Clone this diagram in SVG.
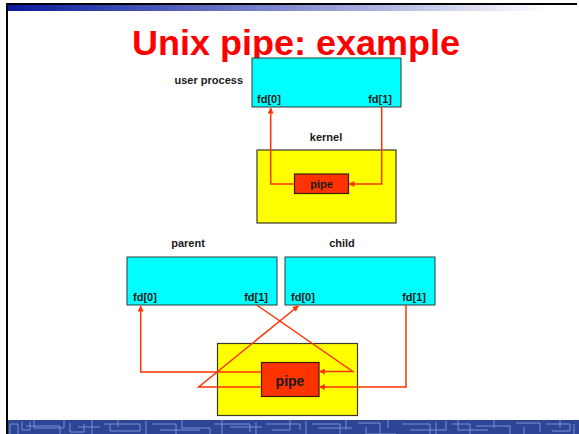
<svg xmlns="http://www.w3.org/2000/svg" width="579" height="434" viewBox="0 0 579 434">
<defs>
<linearGradient id="topband" x1="0" y1="0" x2="1" y2="0">
<stop offset="0" stop-color="#0a1a9e"/>
<stop offset="0.55" stop-color="#8a93d0"/>
<stop offset="1" stop-color="#ffffff"/>
</linearGradient>
<marker id="arr" viewBox="0 0 10 10" refX="9" refY="5" markerWidth="7" markerHeight="6" markerUnits="userSpaceOnUse" orient="auto">
<path d="M0,0 L10,5 L0,10 z" fill="#ff3300"/>
</marker>
</defs>
<style>
.lbl{font-family:"Liberation Sans",Arial,sans-serif;font-weight:bold;font-size:11px;fill:#1a1a1a}
.proc{fill:#00ffff;stroke:#2a3a3a;stroke-width:1}
.kern{fill:#ffff00;stroke:#3a3a2a;stroke-width:1.2}
.pipe{fill:#ff3300;stroke:#3a1a10;stroke-width:1.2}
.con{fill:none;stroke:#ff3300;stroke-width:1.5}
.maze{fill:none;stroke:#7d90d2;stroke-width:1}
</style>
<rect width="579" height="434" fill="#ffffff"/>
<g id="frame">
<rect x="8" y="5" width="540" height="6" fill="url(#topband)"/>
<rect x="6" y="3" width="571" height="2" fill="#000000"/>
<rect x="8" y="420" width="571" height="14" fill="#2d4595"/>
<path class="maze" d="M10,434 V424 H18 V434 M22,422 V430 H30 V422 M26,426 H60 V434 M34,420 V428 H64 V420 M70,423 V432 H84 V424 M78,427 H100 M92,420 V434 M104,424 H140 V431 H110 V424 M118,420 V427 M146,421 V434 M152,424 H176 V434 M160,430 H200 M182,420 V428 H210 V434 M214,424 H250 V432 M222,420 V434 M230,427 H262 M256,422 V434 M266,424 H300 V430 M272,430 H290 V420 M306,421 V434 M312,424 H340 V434 M318,428 H352 M346,420 V430 M358,423 H380 V434 M366,427 V434 H396 M388,420 V428 M402,424 H430 V434 M410,430 H446 V421 M436,422 V434 M452,424 H470 V434 M458,420 V430 H488 M476,426 H510 V434 M494,420 V428 M516,423 H540 V432 M524,427 V434 M546,424 H570 V431 H552 M560,420 V428 M574,424 V434"/>
<rect x="6" y="3" width="2" height="431" fill="#000000"/>
</g>
<text x="296" y="55" text-anchor="middle" font-family="'Liberation Sans',Arial,sans-serif" font-weight="bold" font-size="35" fill="#ff0000" textLength="328" lengthAdjust="spacingAndGlyphs">Unix pipe: example</text>
<g id="user-process">
<rect class="proc" x="252" y="58" width="149" height="49"/>
<text class="lbl" x="243" y="84" text-anchor="end">user process</text>
<text class="lbl" x="257" y="103">fd[0]</text>
<text class="lbl" x="392" y="103" text-anchor="end">fd[1]</text>
</g>
<g id="kernel">
<rect class="kern" x="257" y="150" width="139" height="73"/>
<text class="lbl" x="326" y="141" text-anchor="middle">kernel</text>
</g>
<g id="pipe-top">
<rect class="pipe" x="294.5" y="174" width="54" height="19.5"/>
<text class="lbl" x="321.5" y="188" text-anchor="middle">pipe</text>
</g>
<g id="parent">
<rect class="proc" x="127" y="257" width="150" height="48"/>
<text class="lbl" x="188" y="247" text-anchor="middle">parent</text>
<text class="lbl" x="133" y="301">fd[0]</text>
<text class="lbl" x="268" y="301" text-anchor="end">fd[1]</text>
</g>
<g id="child">
<rect class="proc" x="285" y="257" width="150" height="48"/>
<text class="lbl" x="342" y="247" text-anchor="middle">child</text>
<text class="lbl" x="291" y="301">fd[0]</text>
<text class="lbl" x="426" y="301" text-anchor="end">fd[1]</text>
</g>
<g id="kernel-bottom">
<rect class="kern" x="217.5" y="343.5" width="140" height="72"/>
</g>
<g id="pipe-bottom">
<rect class="pipe" x="261.5" y="362.5" width="57.5" height="34"/>
<text class="lbl" x="290" y="386" text-anchor="middle" font-size="14" style="font-size:14px">pipe</text>
</g>
<g id="connectors">
<path class="con" d="M294.5,184 H270.7 V108" marker-end="url(#arr)"/>
<path class="con" d="M381.7,107 V184 H349" marker-end="url(#arr)"/>
<path class="con" d="M261.5,372 H140.7 V306" marker-end="url(#arr)"/>
<path class="con" d="M261.5,387 H198.7 L298.3,306" marker-end="url(#arr)"/>
<path class="con" d="M256.7,305 L352.7,371.5 H319.5" marker-end="url(#arr)"/>
<path class="con" d="M406,305 V387 H319.5" marker-end="url(#arr)"/>
</g>
</svg>
